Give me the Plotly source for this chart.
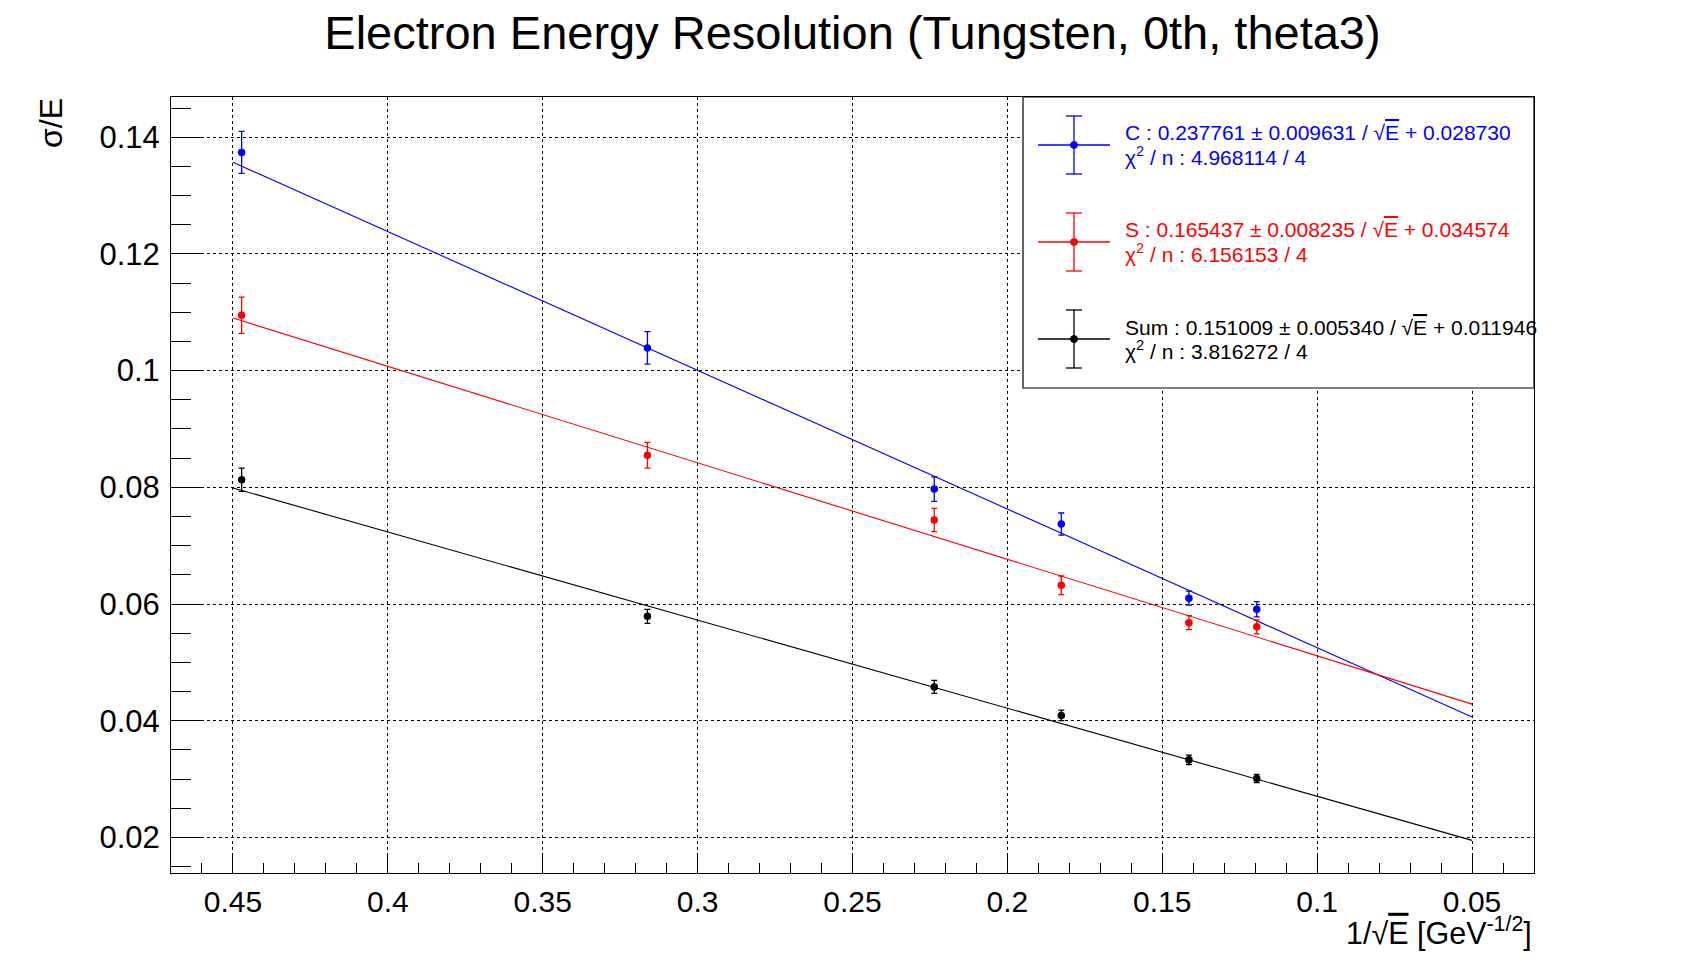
import plotly.graph_objects as go

# ---------------- data ----------------
inv_sqrt_e = [0.4472, 0.3162, 0.2236, 0.1826, 0.1414, 0.1195]

c_vals = [0.1374, 0.1039, 0.0797, 0.0737, 0.0610, 0.0591]
c_errs = [0.0036, 0.0028, 0.0021, 0.0019, 0.0012, 0.0013]

s_vals = [0.1095, 0.0855, 0.0744, 0.0632, 0.0568, 0.0561]
s_errs = [0.0031, 0.0022, 0.0020, 0.0016, 0.0012, 0.0012]

sum_vals = [0.0813, 0.0579, 0.0458, 0.0409, 0.0333, 0.0301]
sum_errs = [0.0020, 0.0012, 0.0011, 0.0009, 0.0008, 0.0007]

# fit parameters (slope, intercept) as printed in the legend
fit_c = (0.237761, 0.028730)
fit_s = (0.165437, 0.034574)
fit_sum = (0.151009, 0.011946)
fit_x_range = [0.45, 0.05]

legend_lines = [
    ("C : 0.237761 ± 0.009631 / √<span style='text-decoration:overline'>E</span> + 0.028730",
     "χ<sup>2</sup> / n : 4.968114 / 4"),
    ("S : 0.165437 ± 0.008235 / √<span style='text-decoration:overline'>E</span> + 0.034574",
     "χ<sup>2</sup> / n : 6.156153 / 4"),
    ("Sum : 0.151009 ± 0.005340 / √<span style='text-decoration:overline'>E</span> + 0.011946",
     "χ<sup>2</sup> / n : 3.816272 / 4"),
]
colors = ["#0000ff", "#ff0000", "#000000"]

x_ticks = [0.45, 0.4, 0.35, 0.3, 0.25, 0.2, 0.15, 0.1, 0.05]
x_tick_text = ["0.45", "0.4", "0.35", "0.3", "0.25", "0.2", "0.15", "0.1", "0.05"]
y_ticks = [0.02, 0.04, 0.06, 0.08, 0.1, 0.12, 0.14]
y_tick_text = ["0.02", "0.04", "0.06", "0.08", "0.1", "0.12", "0.14"]

# ---------------- layout geometry ----------------
W, H = 1705, 971
FL, FR, FT, FB = 171, 1534, 97, 873   # frame in page pixels
ML, MR, MT, MB = FL, W - FR, FT, H - FB
FONT = "Liberation Sans, Arial, Helvetica, sans-serif"


def px(xp):
    return (xp - FL) / (FR - FL)


def py(yp):
    return (FB - yp) / (FB - FT)


fig = go.Figure()

series = [(c_vals, c_errs, fit_c), (s_vals, s_errs, fit_s), (sum_vals, sum_errs, fit_sum)]
for (vals, errs, fit), col in zip(series, colors):
    fig.add_trace(go.Scatter(
        x=inv_sqrt_e, y=vals, mode="markers",
        marker=dict(color=col, size=7.5, symbol="circle"),
        error_y=dict(type="data", array=errs, visible=True, color=col, thickness=1.3, width=3),
        showlegend=False, hoverinfo="x+y",
    ))
    a, b = fit
    fig.add_trace(go.Scatter(
        x=fit_x_range, y=[a * x + b for x in fit_x_range], mode="lines",
        line=dict(color=col, width=1.1), showlegend=False, hoverinfo="skip",
    ))

shapes = []
annotations = []

# legend box
shapes.append(dict(type="rect", xref="paper", yref="paper",
                   x0=px(1023), x1=px(1534), y0=py(388), y1=py(97),
                   line=dict(color="black", width=1.2), fillcolor="white", layer="above"))

entry_y = [145, 242, 339]
for (l1, l2), col, yc in zip(legend_lines, colors, entry_y):
    shapes.append(dict(type="line", xref="paper", yref="paper",
                       x0=px(1038), x1=px(1110), y0=py(yc), y1=py(yc),
                       line=dict(color=col, width=1.3), layer="above"))
    shapes.append(dict(type="line", xref="paper", yref="paper",
                       x0=px(1074), x1=px(1074), y0=py(yc - 29), y1=py(yc + 29),
                       line=dict(color=col, width=1.3), layer="above"))
    for cy in (yc - 29, yc + 29):
        shapes.append(dict(type="line", xref="paper", yref="paper",
                           x0=px(1066), x1=px(1082), y0=py(cy), y1=py(cy),
                           line=dict(color=col, width=1.3), layer="above"))
    shapes.append(dict(type="circle", xref="paper", yref="paper",
                       x0=px(1070.5), x1=px(1077.5), y0=py(yc + 3.5), y1=py(yc - 3.5),
                       line=dict(color=col, width=1), fillcolor=col, layer="above"))
    annotations.append(dict(text=l1, xref="paper", yref="paper", x=px(1123), y=py(yc - 12),
                            xanchor="left", yanchor="middle", showarrow=False,
                            font=dict(family=FONT, size=21, color=col)))
    annotations.append(dict(text=l2, xref="paper", yref="paper", x=px(1123), y=py(yc + 11),
                            xanchor="left", yanchor="middle", showarrow=False,
                            font=dict(family=FONT, size=21, color=col)))

# axis titles
annotations.append(dict(text="σ/E", xref="paper", yref="paper", x=px(31), y=py(96),
                        xanchor="left", yanchor="top", textangle=-90, showarrow=False,
                        font=dict(family=FONT, size=32, color="black")))
annotations.append(dict(text="1/√<span style='text-decoration:overline'>E</span> [GeV<sup>-1/2</sup>]",
                        xref="paper", yref="paper", x=1.0, y=py(931),
                        xanchor="right", yanchor="middle", showarrow=False,
                        font=dict(family=FONT, size=30.5, color="black")))

fig.update_layout(
    width=W, height=H,
    margin=dict(l=ML, r=MR, t=MT, b=MB),
    paper_bgcolor="white", plot_bgcolor="white",
    font=dict(family=FONT, color="black"),
    title=dict(text="Electron Energy Resolution (Tungsten, 0th, theta3)",
               x=0.5, xref="container", xanchor="center",
               y=1 - 33 / H, yref="container", yanchor="middle",
               font=dict(family=FONT, size=47, color="black")),
    shapes=shapes, annotations=annotations,
    showlegend=False,
)

fig.update_xaxes(
    range=[0.47, 0.03], tickmode="array", tickvals=x_ticks, ticktext=x_tick_text,
    ticks="inside", ticklen=18, tickwidth=1, tickcolor="black",
    showline=True, linecolor="black", linewidth=1, mirror=True,
    showgrid=True, gridcolor="black", gridwidth=1, griddash="dot",
    zeroline=False, tickfont=dict(family=FONT, size=30, color="black"),
    ticklabelstandoff=2,
    minor=dict(tickmode="linear", tick0=0, dtick=0.01, ticks="inside", ticklen=10,
               tickcolor="black", tickwidth=1, showgrid=False),
)
fig.update_yaxes(
    range=[0.0139, 0.1469], tickmode="array", tickvals=y_ticks, ticktext=y_tick_text,
    ticks="inside", ticklen=30, tickwidth=1, tickcolor="black",
    showline=True, linecolor="black", linewidth=1, mirror=True,
    showgrid=True, gridcolor="black", gridwidth=1, griddash="dot",
    zeroline=False, tickfont=dict(family=FONT, size=31, color="black"),
    ticklabelstandoff=4,
    minor=dict(tickmode="linear", tick0=0, dtick=0.005, ticks="inside", ticklen=20,
               tickcolor="black", tickwidth=1, showgrid=False),
)

fig.write_html(
    "out.html",
    config={"displayModeBar": False},
    post_script="document.body.style.margin='0';document.body.style.overflow='hidden';",
)
